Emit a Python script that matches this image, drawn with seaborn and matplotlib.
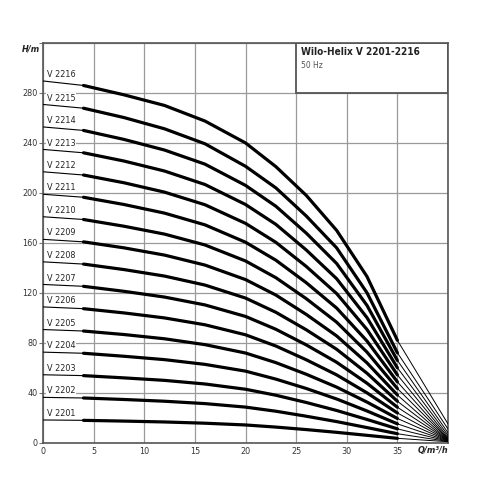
import matplotlib
matplotlib.use("Agg")
import matplotlib.pyplot as plt
import matplotlib.patches as patches
import pandas as pd
import seaborn as sns

# flow points (m3/h) where the curves were read
q_points = [0, 4, 8, 12, 16, 20, 23, 26, 29, 32, 35, 40]

pumps = ["V 2201", "V 2202", "V 2203", "V 2204", "V 2205", "V 2206", "V 2207", "V 2208",
         "V 2209", "V 2210", "V 2211", "V 2212", "V 2213", "V 2214", "V 2215", "V 2216"]

# head (m) per pump at q_points
h_2201 = [18.2, 17.9, 17.3, 16.6, 15.6, 14.2, 12.5, 10.5, 8.3, 5.9, 3.5, 0.8]
h_2202 = [36.3, 35.8, 34.6, 33.2, 31.3, 28.5, 25.2, 21.2, 16.9, 12.1, 7.2, 1.0]
h_2203 = [54.4, 53.7, 51.9, 49.9, 47.0, 42.8, 38.0, 32.2, 25.8, 18.6, 11.1, 1.2]
h_2204 = [72.5, 71.6, 69.2, 66.5, 62.7, 57.3, 50.9, 43.4, 35.0, 25.4, 15.1, 1.4]
h_2205 = [90.6, 89.4, 86.6, 83.2, 78.5, 71.8, 64.1, 54.8, 44.5, 32.5, 19.4, 1.6]
h_2206 = [108.7, 107.3, 103.9, 99.9, 94.4, 86.4, 77.4, 66.4, 54.3, 39.9, 23.8, 1.8]
h_2207 = [126.7, 125.2, 121.2, 116.6, 110.3, 101.1, 90.8, 78.3, 64.4, 47.6, 28.4, 2.0]
h_2208 = [144.8, 143.0, 138.6, 133.4, 126.2, 115.8, 104.4, 90.4, 74.8, 55.6, 33.2, 2.2]
h_2209 = [162.8, 160.8, 156.0, 150.2, 142.2, 130.6, 118.2, 102.7, 85.5, 63.9, 38.2, 2.5]
h_2210 = [180.9, 178.7, 173.3, 167.0, 158.3, 145.5, 132.1, 115.3, 96.5, 72.5, 43.4, 3.0]
h_2211 = [198.9, 196.5, 190.7, 183.8, 174.4, 160.5, 146.1, 128.1, 107.8, 81.4, 48.7, 3.5]
h_2212 = [216.9, 214.3, 208.1, 200.6, 190.5, 175.6, 160.4, 141.1, 119.4, 90.6, 54.3, 4.5]
h_2213 = [234.8, 232.1, 225.5, 217.5, 206.7, 190.7, 174.8, 154.3, 131.3, 100.1, 60.0, 6.0]
h_2214 = [252.8, 250.0, 242.8, 234.3, 223.0, 206.0, 189.3, 167.8, 143.5, 109.9, 65.9, 8.0]
h_2215 = [270.8, 267.8, 260.3, 251.3, 239.3, 221.3, 204.0, 181.5, 156.0, 120.0, 72.0, 11.0]
h_2216 = [289.6, 286.0, 278.5, 270.0, 257.5, 240.0, 221.0, 198.0, 170.0, 133.0, 82.0, 15.0]

heads = [h_2201, h_2202, h_2203, h_2204, h_2205, h_2206, h_2207, h_2208,
         h_2209, h_2210, h_2211, h_2212, h_2213, h_2214, h_2215, h_2216]

x_ticks = [0, 5, 10, 15, 20, 25, 30, 35, 40]
x_labels = ["0", "5", "10", "15", "20", "25", "30", "35", ""]
y_ticks = [0, 40, 80, 120, 160, 200, 240, 280, 320]
y_labels = ["0", "40", "80", "120", "160", "200", "240", "280", ""]

title = "Wilo-Helix V 2201-2216"
subtitle = "50 Hz"

sns.set_style("white")
plt.rcParams["font.family"] = ["DejaVu Sans"]
plt.rcParams["font.stretch"] = "condensed"

fig = plt.figure(figsize=(5, 5), dpi=100)
ax = fig.add_axes([0.086, 0.1146, 0.81, 0.7994])

for name, h in zip(pumps, heads):
    df = pd.DataFrame({"Q": q_points, "H": h})
    # thin start, thick working range, thin run-out to the end point
    sns.lineplot(data=df.iloc[0:2], x="Q", y="H", color="black", linewidth=0.8,
                 sort=False, estimator=None, ax=ax, zorder=3)
    sns.lineplot(data=df.iloc[1:11], x="Q", y="H", color="black", linewidth=2.3,
                 sort=False, estimator=None, ax=ax, zorder=3)
    sns.lineplot(data=df.iloc[10:12], x="Q", y="H", color="black", linewidth=0.7,
                 sort=False, estimator=None, ax=ax, zorder=3)
    ax.text(0.35, h[0] + 1.5, name, fontsize=6.5, color="#222222", ha="left", va="bottom",
            zorder=2.5, bbox=dict(facecolor="white", edgecolor="none", pad=0.6))

ax.set_xlim(0, 40)
ax.set_ylim(0, 320)
ax.set_xticks(x_ticks)
ax.set_xticklabels(x_labels)
ax.set_yticks(y_ticks)
ax.set_yticklabels(y_labels)
ax.set_xlabel("")
ax.set_ylabel("")
ax.grid(True, color="#9a9a9a", linewidth=0.9)
ax.set_axisbelow(True)
ax.tick_params(axis="x", length=0, pad=3, labelsize=6.5, labelcolor="#333333")
ax.tick_params(axis="y", length=3, width=0.8, color="#777777", pad=1, labelsize=6.5,
               labelcolor="#333333", direction="out", left=True)
for s in ax.spines.values():
    s.set_color("#555555")
    s.set_linewidth(1.2)

box = patches.Rectangle((25, 280), 15, 40, facecolor="white", edgecolor="#555555",
                        linewidth=1.3, zorder=2)
ax.add_patch(box)
ax.text(25.5, 316.5, title, fontsize=7.2, fontweight="bold", color="#222222",
        ha="left", va="top", zorder=4)
ax.text(25.5, 305.5, subtitle, fontsize=6, color="#555555", ha="left", va="top", zorder=4)

ax.text(-0.008, 0.997, "H/m", transform=ax.transAxes, fontsize=6.5, fontweight="bold",
        fontstyle="italic", color="#222222", ha="right", va="top")
ax.text(1.0, -0.008, "Q/m³/h", transform=ax.transAxes, fontsize=6.5, fontweight="bold",
        fontstyle="italic", color="#222222", ha="right", va="top")

fig.savefig("out.png", dpi=100, facecolor="white")
plt.close(fig)
